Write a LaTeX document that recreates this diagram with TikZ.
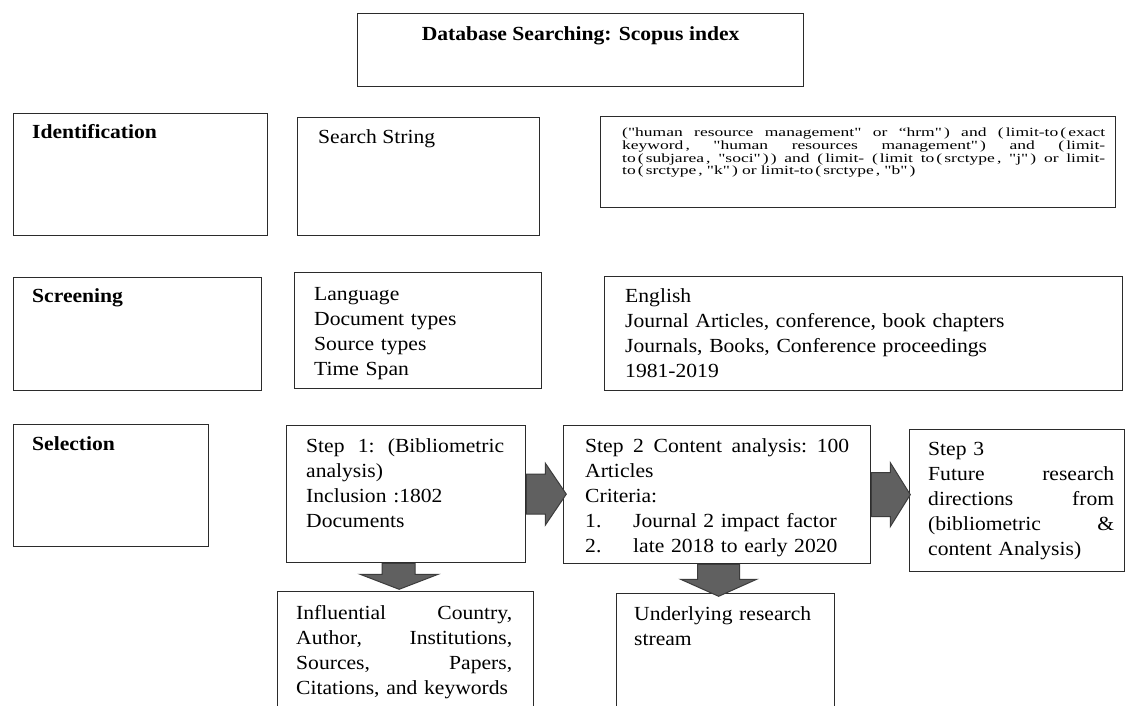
\documentclass[tikz,border=0pt]{standalone}
\usepackage{fontspec}
\setmainfont{Liberation Serif}[FakeStretch=1.08]
\newfontfamily\queryfont{Liberation Serif}[FakeStretch=1.4]
\usetikzlibrary{calc}

\definecolor{boxline}{HTML}{2B2B2B}
\definecolor{arrowfill}{HTML}{606060}
\definecolor{arrowline}{HTML}{3C3C3C}

% one line stretched to a given width (all spaces grow alike)
\newcommand{\jline}[2]{\leavevmode{\frenchspacing\spaceskip=.25em plus 1fil\hbox to #1{#2}}}

\tikzset{
  panel/.style={draw=boxline, line width=1.3pt, anchor=north west, inner sep=0pt},
  bodytext/.style={anchor=base west, inner sep=0pt, align=left, font=\fontsize{20}{25}\selectfont},
  labeltext/.style={bodytext, font=\fontsize{20}{25}\selectfont\bfseries},
  fatarrow/.style={fill=arrowfill, draw=arrowline, line width=1pt, line join=miter}
}

\begin{document}
\begin{tikzpicture}[x=1pt, y=-1pt]
  \clip (0,0) rectangle (1127,706);
  \fill[white] (0,0) rectangle (1127,706);

  % database box
  \node[panel, minimum width=446pt, minimum height=73pt] (title) at (357,13) {};
  \node[labeltext, anchor=base] (titletxt) at ($(title.north)+(0,28)$) {Database Searching: Scopus index};

  % identification row
  \node[panel, minimum width=254pt, minimum height=122pt] (ident) at (13,113) {};
  \node[labeltext] (identtxt) at ($(ident.north west)+(19,26)$) {Identification};
  \node[panel, minimum width=242pt, minimum height=118pt] (search) at (297,117) {};
  \node[bodytext] (searchtxt) at ($(search.north west)+(21,27)$) {Search String};
  \node[panel, minimum width=515pt, minimum height=91pt] (query) at (600,116) {};
  \node[bodytext, text width=483pt, font=\queryfont\fontsize{12.5}{12.6}\selectfont] (querytxt)
    at ($(query.north west)+(22,21)$)
    {\jline{483pt}{("human resource management" or “hrm"\,) and (\,limit-to\,(\,exact}\\
     \jline{483pt}{keyword\,, "human resources management"\,) and (\,limit-}\\
     \jline{483pt}{to\,(\,subjarea\,, "soci"\,)\,) and (\,limit- (\,limit to\,(\,srctype\,, "j"\,) or limit-}\\
     to\,(\,srctype\,, "k"\,) or limit-to\,(\,srctype\,, "b"\,)};

  % screening row
  \node[panel, minimum width=248pt, minimum height=113pt] (screen) at (13,277) {};
  \node[labeltext] (screentxt) at ($(screen.north west)+(19,25)$) {Screening};
  \node[panel, minimum width=247pt, minimum height=116pt] (criteria) at (294,272) {};
  \node[bodytext, text width=220pt] (criteriatxt) at ($(criteria.north west)+(20,28)$)
    {Language\\ Document types\\ Source types\\ Time Span};
  \node[panel, minimum width=518pt, minimum height=114pt] (values) at (604,276) {};
  \node[bodytext, text width=480pt] (valuestxt) at ($(values.north west)+(21,26)$)
    {English\\ Journal Articles, conference, book chapters\\ Journals, Books, Conference proceedings\\ 1981-2019};

  % selection row
  \node[panel, minimum width=195pt, minimum height=122pt] (select) at (13,424) {};
  \node[labeltext] (selecttxt) at ($(select.north west)+(19,26)$) {Selection};
  \node[panel, minimum width=239pt, minimum height=137pt] (step1) at (286,425) {};
  \node[bodytext, text width=198pt] (step1txt) at ($(step1.north west)+(20,27)$)
    {\jline{198pt}{Step 1: (Bibliometric}\\ analysis)\\ Inclusion :1802\\ Documents};
  \node[panel, minimum width=307pt, minimum height=138pt] (step2) at (563,425) {};
  \node[bodytext, text width=264pt] (step2txt) at ($(step2.north west)+(22,27)$)
    {\jline{264pt}{Step 2 Content analysis: 100}\\ Articles\\ Criteria:\\
     \makebox[48pt][l]{1.}Journal 2 impact factor\\
     \makebox[48pt][l]{2.}late 2018 to early 2020};
  \node[panel, minimum width=215pt, minimum height=142pt] (step3) at (909,429) {};
  \node[bodytext, text width=186pt] (step3txt) at ($(step3.north west)+(19,26)$)
    {Step 3\\ \jline{186pt}{Future research}\\ \jline{186pt}{directions from}\\ \jline{186pt}{(bibliometric \&}\\ content Analysis)};

  % results under the steps
  \node[panel, minimum width=256pt, minimum height=140pt] (influence) at (277,591) {};
  \node[bodytext, text width=216pt] (influencetxt) at ($(influence.north west)+(19,28)$)
    {\jline{216pt}{Influential Country,}\\ \jline{216pt}{Author, Institutions,}\\ \jline{216pt}{Sources, Papers,}\\ Citations, and keywords};
  \node[panel, minimum width=218pt, minimum height=140pt] (stream) at (616,593) {};
  \node[bodytext, text width=190pt] (streamtxt) at ($(stream.north west)+(18,27)$)
    {Underlying research\\ stream};

  % block arrows
  \draw[fatarrow, shift={(step1.east)}] (0,-20) -- (19,-20) -- (19,-31) -- (40,0) -- (19,31) -- (19,20) -- (0,20) -- cycle;
  \draw[fatarrow, shift={(step2.east)}] (0,-22) -- (19,-22) -- (19,-32) -- (39,0) -- (19,32) -- (19,22) -- (0,22) -- cycle;
  \draw[fatarrow, shift={(step1.south)}] (-24,0) -- (9,0) -- (9,11) -- (32,11) -- (-7,26) -- (-46,11) -- (-24,11) -- cycle;
  \draw[fatarrow, shift={(step2.south)}] (-19.5,0) -- (22.5,0) -- (22.5,15) -- (39.5,15) -- (1.5,32) -- (-36.5,15) -- (-19.5,15) -- cycle;
\end{tikzpicture}
\end{document}
